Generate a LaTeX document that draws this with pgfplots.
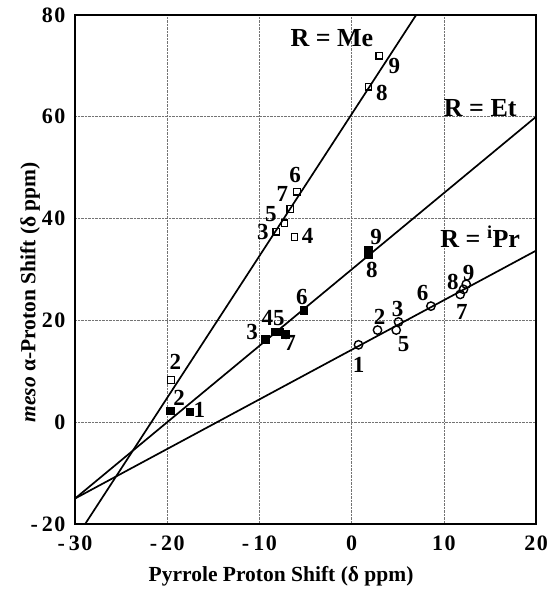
\documentclass[border=0pt]{standalone}
\usepackage{fontspec}
\setmainfont{Liberation Serif}
\usepackage{pgfplots}
\pgfplotsset{compat=1.18}
\begin{document}
\begin{tikzpicture}
\useasboundingbox (-75pt,-67pt) rectangle (473pt,524pt);
\begin{axis}[
  at={(0,0)}, anchor=south west,
  scale only axis, width=461pt, height=509pt,
  xmin=-30, xmax=20, ymin=-20, ymax=80,
  xtick={-30,-20,-10,0,10,20}, ytick={-20,0,20,40,60,80},
  xticklabels={{-\hspace{4pt}3\hspace{1.5pt}0},{-\hspace{4pt}2\hspace{1.5pt}0},{-\hspace{4pt}1\hspace{1.5pt}0},0,{1\hspace{1.5pt}0},{2\hspace{1.5pt}0}},
  yticklabels={{-\hspace{4pt}2\hspace{1.5pt}0},0,{2\hspace{1.5pt}0},{4\hspace{1.5pt}0},{6\hspace{1.5pt}0},{8\hspace{1.5pt}0}},
  grid=major, grid style={densely dotted, black!55, line width=0.6pt},
  major tick length=0pt,
  axis line style={line width=1.6pt},
  tick label style={font=\bfseries\fontsize{22}{22}\selectfont},
  xticklabel style={yshift=-8pt},
  yticklabel style={xshift=-6pt},
  label style={font=\bfseries\fontsize{21.5}{21.5}\selectfont},
  xlabel={Pyrrole Proton Shift (δ ppm)},
  xlabel style={at={(axis description cs:0.447,0)}, anchor=center, yshift=-52pt},
  ylabel={\textit{meso} α-Proton Shift (δ ppm)},
  ylabel style={at={(axis description cs:0,0.455)}, anchor=center, yshift=45pt},
  clip=true,
]
% fitted lines
\addplot[line width=1.7pt, no marks] coordinates {(-28.9,-20) (7.0,80)};
\addplot[line width=1.7pt, no marks] coordinates {(-30,-15) (20,60)};
\addplot[line width=1.7pt, no marks] coordinates {(-30,-15) (20,33.7)};
% R = Me (open squares)
\addplot[only marks, mark=square, mark size=3.3pt, mark options={line width=1.3pt, fill=white}] coordinates {
 (-19.6,8.3) (-8.18,37.4) (-6.19,36.4) (-7.28,39.1) (-5.93,45.3) (-6.66,41.9) (1.83,65.9) (2.99,72.0)};
% R = Et (filled squares)
\addplot[only marks, mark=square*, mark size=3.6pt, mark options={fill=black}] coordinates {
 (-17.58,2.06) (-19.67,2.27) (-9.37,16.3) (-8.3,17.8) (-7.8,17.8) (-5.22,22.0) (-7.2,17.3) (1.8,33.0) (1.8,33.8)};
% R = iPr (open circles)
\addplot[only marks, mark=o, mark size=4.2pt, mark options={line width=1.4pt}] coordinates {
 (0.75,15.2) (2.81,18.1) (5.09,19.7) (4.84,18.1) (8.6,22.8) (11.78,25.1) (12.14,26.1) (12.43,27.1)};
% labels
\begin{scope}[every node/.style={font=\bfseries\fontsize{23}{23}\selectfont, inner sep=0pt}]
% Me
\node at (axis cs:4.65,70.0) {9};
\node at (axis cs:3.28,64.6) {8};
\node at (axis cs:-6.12,48.6) {6};
\node at (axis cs:-7.5,44.9) {7};
\node at (axis cs:-8.75,40.9) {5};
\node at (axis cs:-9.62,37.4) {3};
\node at (axis cs:-4.78,36.6) {4};
\node at (axis cs:-19.1,11.8) {2};
% Et
\node at (axis cs:-16.5,2.4) {1};
\node at (axis cs:-18.7,4.7) {2};
\node at (axis cs:-10.8,17.8) {3};
\node at (axis cs:-8.5,20.4) {45};
\node at (axis cs:-6.66,15.6) {7};
\node at (axis cs:-5.4,24.5) {6};
\node at (axis cs:2.67,36.4) {9};
\node at (axis cs:2.2,30.0) {8};
% iPr
\node at (axis cs:0.75,11.2) {1};
\node at (axis cs:3.03,20.7) {2};
\node at (axis cs:4.98,22.2) {3};
\node at (axis cs:5.63,15.4) {5};
\node at (axis cs:7.69,25.4) {6};
\node at (axis cs:11.96,21.7) {7};
\node at (axis cs:10.98,27.6) {8};
\node at (axis cs:12.68,29.3) {9};
\end{scope}
\begin{scope}[every node/.style={font=\bfseries\fontsize{26}{26}\selectfont, inner sep=0pt}]
\node at (axis cs:-2.14,75.4) {R = Me};
\node at (axis cs:13.95,61.7) {R = Et};
\node at (axis cs:13.95,36.4) {R = \textsuperscript{i}Pr};
\end{scope}
\end{axis}
\end{tikzpicture}
\end{document}
